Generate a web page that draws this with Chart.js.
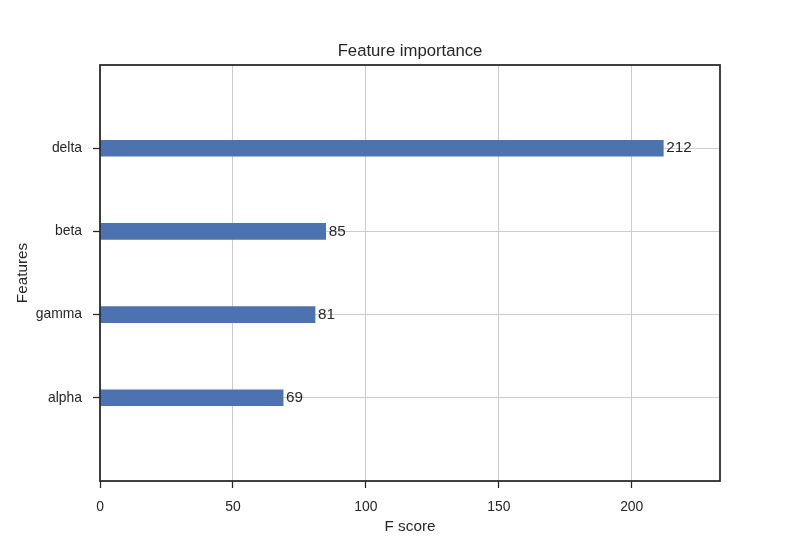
<!DOCTYPE html>
<html>
<head>
<meta charset="utf-8">
<script src="https://cdn.jsdelivr.net/npm/chart.js@4.4.0/dist/chart.umd.min.js"></script>
<style>
  html, body { margin: 0; padding: 0; background: #ffffff; }
  #wrap { width: 800px; height: 542px; }
</style>
</head>
<body>
<div id="wrap"><canvas id="c" width="800" height="542"></canvas></div>
<script>
const features = ['alpha', 'gamma', 'beta', 'delta'];
const fScores = [69, 81, 85, 212];
const xTicks = [0, 50, 100, 150, 200];

const TEXT = '#262626';
const FONT = "'Liberation Sans', Arial, sans-serif";

const points = features.map((f, i) => ({ x: fScores[i], y: i }));

const framePlugin = {
  id: 'frame',
  afterDatasetsDraw(chart) {
    const ctx = chart.ctx;
    const meta = chart.getDatasetMeta(0);
    ctx.save();
    ctx.fillStyle = TEXT;
    ctx.font = "15.3px " + FONT;
    ctx.textAlign = 'left';
    ctx.textBaseline = 'middle';
    const xs = chart.scales.x;
    meta.data.forEach((bar, i) => {
      const px = xs.getPixelForValue(fScores[i] + 1);
      ctx.fillText(String(fScores[i]), px, bar.y);
    });
    ctx.restore();
  },
  afterDraw(chart) {
    const ctx = chart.ctx;
    const a = chart.chartArea;
    ctx.save();
    ctx.strokeStyle = TEXT;
    ctx.lineWidth = 1.75;
    ctx.strokeRect(a.left, a.top, a.right - a.left, a.bottom - a.top);
    ctx.fillStyle = TEXT;
    ctx.font = "16.7px " + FONT;
    ctx.textAlign = 'center';
    ctx.textBaseline = 'middle';
    ctx.fillText('Feature importance', (a.left + a.right) / 2, 51);
    ctx.restore();
  }
};

new Chart(document.getElementById('c'), {
  type: 'bar',
  data: {
    datasets: [{
      data: points,
      backgroundColor: '#4c72b0',
      borderWidth: 0,
      barPercentage: 0.2,
      categoryPercentage: 1.0
    }]
  },
  options: {
    indexAxis: 'y',
    responsive: false,
    animation: false,
    layout: { padding: { top: 65, right: 80, left: 0, bottom: 0 } },
    plugins: { legend: { display: false }, tooltip: { enabled: false }, title: { display: false } },
    scales: {
      x: {
        type: 'linear',
        min: 0,
        max: 233.2,
        offset: false,
        afterBuildTicks(scale) { scale.ticks = xTicks.map(v => ({ value: v })); },
        afterFit(scale) { scale.height = 61; },
        border: { display: false },
        grid: { offset: false, color: '#cccccc', lineWidth: 1, tickColor: TEXT, tickLength: 7, tickWidth: 1.25 },
        ticks: { color: TEXT, font: { family: FONT, size: 13.9 }, padding: 11, maxRotation: 0 },
        title: { display: true, text: 'F score', color: TEXT, font: { family: FONT, size: 15.3 }, padding: { top: 0, bottom: 6 } }
      },
      y: {
        type: 'linear',
        min: -1,
        max: 4,
        offset: false,
        afterBuildTicks(scale) { scale.ticks = features.map((f, i) => ({ value: i })); },
        afterFit(scale) { scale.width = 100; },
        border: { display: false },
        grid: { offset: false, color: '#cccccc', lineWidth: 1, tickColor: TEXT, tickLength: 7, tickWidth: 1.25 },
        ticks: { color: TEXT, font: { family: FONT, size: 13.9 }, padding: 11, callback: (v) => features[v] },
        title: { display: true, text: 'Features', color: TEXT, font: { family: FONT, size: 15.3 }, padding: { top: 14, bottom: 0 } }
      }
    }
  },
  plugins: [framePlugin]
});
</script>
</body>
</html>
